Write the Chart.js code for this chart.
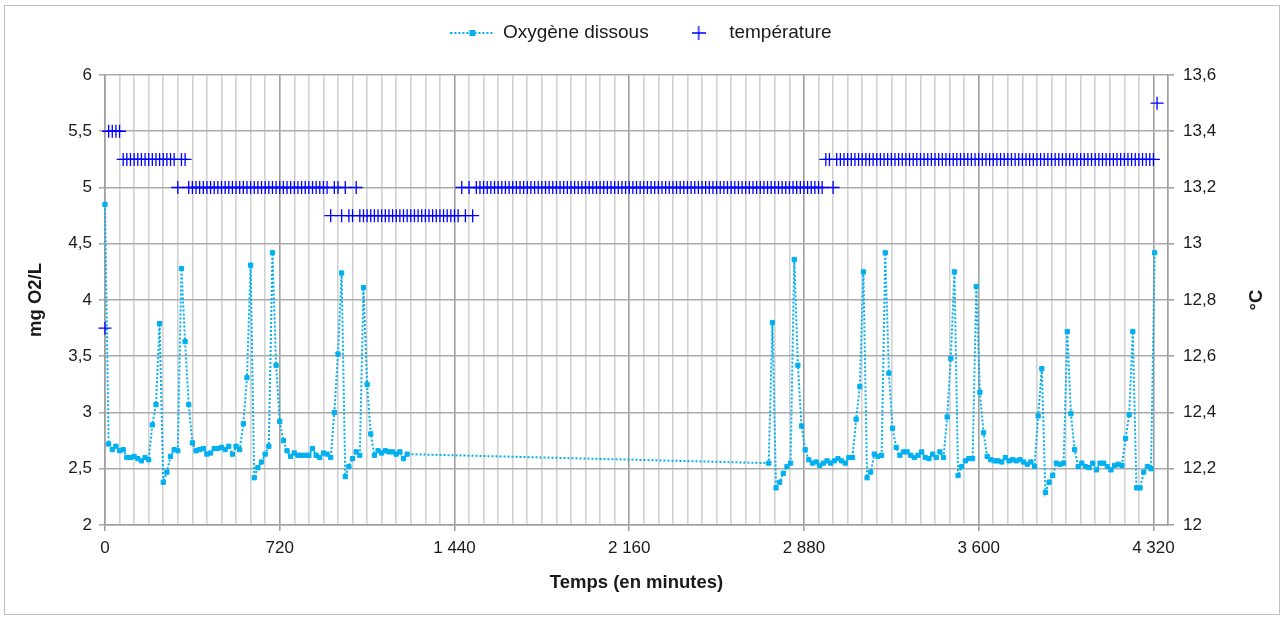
<!DOCTYPE html>
<html lang="fr">
<head>
<meta charset="utf-8">
<title>Oxygène dissous et température</title>
<script src="https://cdn.jsdelivr.net/npm/chart.js@4.4.1/dist/chart.umd.min.js"></script>
<style>
  html, body { margin: 0; padding: 0; background: #fff; }
  #wrap { position: relative; width: 1283px; height: 618px; }
  #frame { position: absolute; left: 4px; top: 5px; width: 1274px; height: 608px; border: 1px solid #bfbfbf; pointer-events: none; }
  canvas { position: absolute; left: 0; top: 0; }
</style>
</head>
<body>
<div id="wrap">
  <canvas id="chart" width="1283" height="618"></canvas>
  <div id="frame"></div>
</div>
<script>
// Logger step in minutes (one reading every 15 min)
const STEP = 15;

// Dissolved oxygen (mg O2/L) - first recording period, starts at t = 0
const oxyStart1 = 0;
const oxyValues1 = [
  4.85, 2.72, 2.67, 2.70, 2.66, 2.67, 2.60, 2.60, 2.61, 2.59,
  2.57, 2.60, 2.58, 2.89, 3.07, 3.79, 2.38, 2.47, 2.61, 2.67,
  2.66, 4.28, 3.63, 3.07, 2.73, 2.66, 2.67, 2.68, 2.63, 2.64,
  2.68, 2.68, 2.69, 2.67, 2.70, 2.63, 2.70, 2.67, 2.90, 3.31,
  4.31, 2.42, 2.51, 2.56, 2.63, 2.70, 4.42, 3.42, 2.92, 2.75,
  2.66, 2.61, 2.64, 2.62, 2.62, 2.62, 2.62, 2.68, 2.62, 2.60,
  2.64, 2.63, 2.60, 3.00, 3.52, 4.24, 2.43, 2.52, 2.59, 2.65,
  2.62, 4.11, 3.25, 2.81, 2.62, 2.66, 2.64, 2.66, 2.65, 2.65,
  2.63, 2.65, 2.59, 2.63
];

// Dissolved oxygen - second recording period
const oxyStart2 = 2735;
const oxyValues2 = [
  2.55, 3.80, 2.33, 2.38, 2.46, 2.52, 2.55, 4.36, 3.42, 2.88,
  2.67, 2.58, 2.55, 2.56, 2.53, 2.55, 2.57, 2.55, 2.57, 2.59,
  2.57, 2.55, 2.60, 2.60, 2.94, 3.23, 4.25, 2.42, 2.47, 2.63,
  2.61, 2.62, 4.42, 3.35, 2.86, 2.69, 2.62, 2.65, 2.65, 2.62,
  2.60, 2.62, 2.65, 2.60, 2.59, 2.63, 2.60, 2.65, 2.60, 2.96,
  3.48, 4.25, 2.44, 2.52, 2.57, 2.59, 2.59, 4.12, 3.18, 2.82,
  2.61, 2.58, 2.57, 2.57, 2.56, 2.60, 2.57, 2.58, 2.57, 2.58,
  2.56, 2.54, 2.56, 2.52, 2.97, 3.39, 2.29, 2.38, 2.44, 2.55,
  2.54, 2.55, 3.72, 2.99, 2.67, 2.52, 2.55, 2.52, 2.51, 2.55,
  2.49, 2.55, 2.55, 2.52, 2.49, 2.53, 2.54, 2.53, 2.77, 2.98,
  3.72, 2.33, 2.33, 2.47, 2.52, 2.50, 4.42
];

// Temperature (°C), one reading every 15 min from t = 0
const tempValues = [
  12.7, 13.4, 13.4, 13.4, 13.4, 13.3, 13.3, 13.3, 13.3, 13.3,
  13.3, 13.3, 13.3, 13.3, 13.3, 13.3, 13.3, 13.3, 13.3, 13.3,
  13.2, 13.3, 13.3, 13.2, 13.2, 13.2, 13.2, 13.2, 13.2, 13.2,
  13.2, 13.2, 13.2, 13.2, 13.2, 13.2, 13.2, 13.2, 13.2, 13.2,
  13.2, 13.2, 13.2, 13.2, 13.2, 13.2, 13.2, 13.2, 13.2, 13.2,
  13.2, 13.2, 13.2, 13.2, 13.2, 13.2, 13.2, 13.2, 13.2, 13.2,
  13.2, 13.2, 13.1, 13.2, 13.2, 13.1, 13.2, 13.1, 13.1, 13.2,
  13.1, 13.1, 13.1, 13.1, 13.1, 13.1, 13.1, 13.1, 13.1, 13.1,
  13.1, 13.1, 13.1, 13.1, 13.1, 13.1, 13.1, 13.1, 13.1, 13.1,
  13.1, 13.1, 13.1, 13.1, 13.1, 13.1, 13.1, 13.1, 13.2, 13.1,
  13.2, 13.1, 13.2, 13.2, 13.2, 13.2, 13.2, 13.2, 13.2, 13.2,
  13.2, 13.2, 13.2, 13.2, 13.2, 13.2, 13.2, 13.2, 13.2, 13.2,
  13.2, 13.2, 13.2, 13.2, 13.2, 13.2, 13.2, 13.2, 13.2, 13.2,
  13.2, 13.2, 13.2, 13.2, 13.2, 13.2, 13.2, 13.2, 13.2, 13.2,
  13.2, 13.2, 13.2, 13.2, 13.2, 13.2, 13.2, 13.2, 13.2, 13.2,
  13.2, 13.2, 13.2, 13.2, 13.2, 13.2, 13.2, 13.2, 13.2, 13.2,
  13.2, 13.2, 13.2, 13.2, 13.2, 13.2, 13.2, 13.2, 13.2, 13.2,
  13.2, 13.2, 13.2, 13.2, 13.2, 13.2, 13.2, 13.2, 13.2, 13.2,
  13.2, 13.2, 13.2, 13.2, 13.2, 13.2, 13.2, 13.2, 13.2, 13.2,
  13.2, 13.2, 13.2, 13.2, 13.2, 13.2, 13.2, 13.2, 13.3, 13.3,
  13.2, 13.3, 13.3, 13.3, 13.3, 13.3, 13.3, 13.3, 13.3, 13.3,
  13.3, 13.3, 13.3, 13.3, 13.3, 13.3, 13.3, 13.3, 13.3, 13.3,
  13.3, 13.3, 13.3, 13.3, 13.3, 13.3, 13.3, 13.3, 13.3, 13.3,
  13.3, 13.3, 13.3, 13.3, 13.3, 13.3, 13.3, 13.3, 13.3, 13.3,
  13.3, 13.3, 13.3, 13.3, 13.3, 13.3, 13.3, 13.3, 13.3, 13.3,
  13.3, 13.3, 13.3, 13.3, 13.3, 13.3, 13.3, 13.3, 13.3, 13.3,
  13.3, 13.3, 13.3, 13.3, 13.3, 13.3, 13.3, 13.3, 13.3, 13.3,
  13.3, 13.3, 13.3, 13.3, 13.3, 13.3, 13.3, 13.3, 13.3, 13.3,
  13.3, 13.3, 13.3, 13.3, 13.3, 13.3, 13.3, 13.3, 13.3, 13.5
];

// Axis ranges / ticks
const xMin = 0, xMax = 4380, xMinorStep = 60, xMajorStep = 720;
const oxyMin = 2, oxyMax = 6, oxyStep = 0.5;
const tempMin = 12, tempMax = 13.6, tempStep = 0.2;

const OXY_COLOR = '#00b0f0';
const TEMP_COLOR = '#0000ff';
const TEXT_COLOR = '#1a1a1a';
const TITLE_FONT = { size: 18.5, weight: 'bold' };

// build {x, y} points from the arrays above
const oxyPoints = oxyValues1.map((v, i) => ({ x: oxyStart1 + i * STEP, y: v }))
  .concat(oxyValues2.map((v, i) => ({ x: oxyStart2 + i * STEP, y: v })));
const tempPoints = tempValues.map((v, i) => ({ x: i * STEP, y: v }));

// french number format: decimal comma, space as thousands separator
function frNum(v) {
  const r = Math.round(v * 10) / 10;
  const s = Number.isInteger(r) ? String(r) : r.toFixed(1).replace('.', ',');
  return s.replace(/\B(?=(\d{3})+(?!\d))/g, ' ');
}

// Excel-like legend symbols
function oxyIcon() {
  const c = document.createElement('canvas');
  c.width = 44; c.height = 10;
  const g = c.getContext('2d');
  g.strokeStyle = OXY_COLOR;
  g.lineWidth = 2;
  g.setLineDash([2, 2]);
  g.beginPath(); g.moveTo(0, 5); g.lineTo(44, 5); g.stroke();
  g.fillStyle = OXY_COLOR;
  g.fillRect(19, 2, 6, 6);
  return c;
}
function tempIcon() {
  const c = document.createElement('canvas');
  c.width = 14; c.height = 14;
  const g = c.getContext('2d');
  g.strokeStyle = TEMP_COLOR;
  g.lineWidth = 1.3;
  g.beginPath();
  g.moveTo(0, 7); g.lineTo(14, 7);
  g.moveTo(7, 0); g.lineTo(7, 14);
  g.stroke();
  return c;
}
const legendIcons = [oxyIcon(), tempIcon()];

// Excel writes the secondary axis title bottom-to-top too, Chart.js would turn it the other way
const rightTitle = {
  id: 'rightTitle',
  afterDraw(chart) {
    const s = chart.scales.yTemp;
    const font = Chart.helpers.toFont(TITLE_FONT);
    const g = chart.ctx;
    g.save();
    g.translate(s.right - 15 - font.lineHeight / 2, (chart.chartArea.top + chart.chartArea.bottom) / 2);
    g.rotate(-Math.PI / 2);
    g.font = font.string;
    g.fillStyle = TEXT_COLOR;
    g.textAlign = 'center';
    g.textBaseline = 'middle';
    g.fillText('°C', 0, 0);
    g.restore();
  }
};

Chart.defaults.font.family = "'Liberation Sans', Arial, sans-serif";
Chart.defaults.color = TEXT_COLOR;

const isMajor = ctx => ctx.tick && ctx.tick.value % xMajorStep === 0;

new Chart(document.getElementById('chart'), {
  type: 'scatter',
  data: {
    datasets: [
      {
        label: 'Oxygène dissous',
        data: oxyPoints,
        yAxisID: 'yOxy',
        showLine: true,
        borderColor: OXY_COLOR,
        backgroundColor: OXY_COLOR,
        borderWidth: 2,
        borderDash: [2, 2],
        tension: 0,
        pointStyle: 'rect',
        pointRadius: 3,
        pointBorderWidth: 1,
        pointBorderColor: OXY_COLOR,
        pointBackgroundColor: OXY_COLOR,
        clip: false,
        order: 2
      },
      {
        label: 'température',
        data: tempPoints,
        yAxisID: 'yTemp',
        showLine: false,
        pointStyle: 'cross',
        pointRadius: 6.5,
        pointBorderWidth: 1.3,
        pointBorderColor: TEMP_COLOR,
        borderColor: TEMP_COLOR,
        backgroundColor: TEMP_COLOR,
        clip: false,
        order: 1
      }
    ]
  },
  plugins: [rightTitle],
  options: {
    responsive: false,
    animation: false,
    devicePixelRatio: 1,
    layout: { padding: { top: -5.5, left: 0, right: 0, bottom: 0 } },
    plugins: {
      tooltip: { enabled: false },
      legend: {
        position: 'top',
        labels: {
          usePointStyle: true,
          pointStyleWidth: 42,
          padding: 29,
          font: { size: 19 },
          color: TEXT_COLOR,
          sort: (a, b) => a.datasetIndex - b.datasetIndex,
          generateLabels: chart => Chart.defaults.plugins.legend.labels.generateLabels(chart)
            .map(item => Object.assign(item, { pointStyle: legendIcons[item.datasetIndex] }))
        }
      },
      // empty spacer between legend and plot
      subtitle: {
        display: true,
        text: '',
        weight: 500,
        position: 'top',
        font: { size: 1, lineHeight: 1 },
        padding: { top: 21.5, bottom: 0 }
      }
    },
    scales: {
      x: {
        type: 'linear',
        position: 'bottom',
        min: xMin,
        max: xMax,
        ticks: {
          stepSize: xMinorStep,
          autoSkip: false,
          maxRotation: 0,
          padding: 7,
          font: { size: 17 },
          color: TEXT_COLOR,
          callback: v => (v % xMajorStep === 0 ? frNum(v) : '')
        },
        grid: {
          color: ctx => (isMajor(ctx) ? '#a0a0a0' : '#d2d2d2'),
          tickColor: ctx => (isMajor(ctx) ? '#a0a0a0' : 'rgba(0,0,0,0)'),
          tickLength: 6,
          lineWidth: 1.6
        },
        border: { color: '#a0a0a0', width: 1.6 },
        title: {
          display: true,
          text: 'Temps (en minutes)',
          color: TEXT_COLOR,
          font: TITLE_FONT,
          padding: { top: 0, bottom: 24 }
        },
        afterFit: scale => { scale.height = 93; }
      },
      yOxy: {
        type: 'linear',
        position: 'left',
        min: oxyMin,
        max: oxyMax,
        ticks: {
          stepSize: oxyStep,
          padding: 7,
          font: { size: 17 },
          color: TEXT_COLOR,
          callback: v => frNum(v)
        },
        grid: { color: '#ababab', tickLength: 6, lineWidth: 1.6 },
        border: { color: '#a0a0a0', width: 1.6 },
        title: {
          display: true,
          text: 'mg O2/L',
          color: TEXT_COLOR,
          font: TITLE_FONT,
          padding: { top: 25, bottom: 0 }
        },
        afterFit: scale => { scale.width = 105; }
      },
      yTemp: {
        type: 'linear',
        position: 'right',
        min: tempMin,
        max: tempMax,
        ticks: {
          stepSize: tempStep,
          padding: 9,
          font: { size: 17 },
          color: TEXT_COLOR,
          callback: v => frNum(v)
        },
        grid: { drawOnChartArea: false, color: '#a0a0a0', tickLength: 6, lineWidth: 1.6 },
        border: { color: '#a0a0a0', width: 1.6 },
        // title drawn by the rightTitle plugin
        title: { display: false },
        afterFit: scale => { scale.width = 115; }
      }
    }
  }
});
</script>
</body>
</html>
